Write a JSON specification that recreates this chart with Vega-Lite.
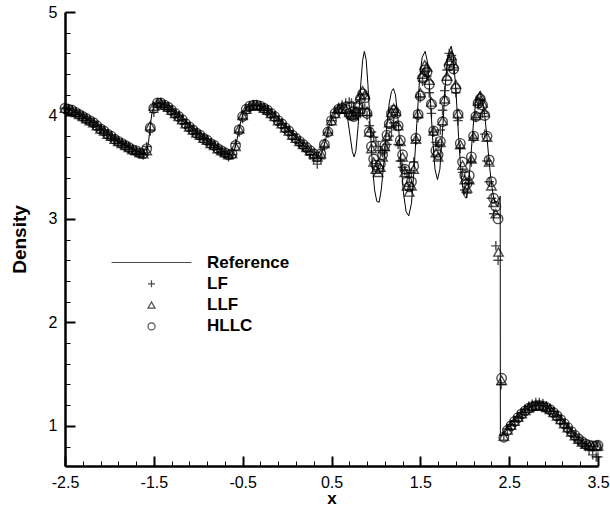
{
  "$schema": "https://vega.github.io/schema/vega-lite/v6.json",
  "width": 533,
  "height": 454,
  "autosize": {"type": "none"},
  "padding": {"left": 65, "top": 12, "right": 12, "bottom": 41},
  "background": "white",
  "config": {
    "view": {"stroke": null},
    "font": "Liberation Sans",
    "axis": {
      "domainColor": "black", "domainWidth": 2.5, "grid": false,
      "labelFont": "Liberation Sans", "labelFontSize": 16, "labelColor": "black",
      "titleFont": "Liberation Sans", "titleFontSize": 19, "titleFontWeight": "bold", "titleColor": "black"
    }
  },
  "resolve": {"axis": {"x": "independent", "y": "independent"}},
  "datasets": {
    "ref": [
      {"x":-2.5,"y":4.07},{"x":-2.4,"y":4.04},{"x":-2.3,"y":3.99},{"x":-2.2,"y":3.94},{"x":-2.1,"y":3.87},{"x":-2.0,"y":3.81},{"x":-1.9,"y":3.75},{"x":-1.8,"y":3.70},{"x":-1.7,"y":3.66},{"x":-1.64,"y":3.635},{"x":-1.6,"y":3.63},{"x":-1.58,"y":3.65},{"x":-1.56,"y":3.74},{"x":-1.54,"y":3.90},{"x":-1.52,"y":4.03},{"x":-1.5,"y":4.09},{"x":-1.47,"y":4.12},{"x":-1.43,"y":4.12},{"x":-1.38,"y":4.10},{"x":-1.3,"y":4.05},{"x":-1.2,"y":3.97},{"x":-1.1,"y":3.89},{"x":-1.0,"y":3.82},{"x":-0.9,"y":3.76},{"x":-0.8,"y":3.69},{"x":-0.7,"y":3.64},{"x":-0.65,"y":3.615},{"x":-0.62,"y":3.62},{"x":-0.6,"y":3.65},{"x":-0.57,"y":3.74},{"x":-0.54,"y":3.87},{"x":-0.51,"y":3.98},{"x":-0.48,"y":4.04},{"x":-0.44,"y":4.08},{"x":-0.38,"y":4.10},{"x":-0.3,"y":4.09},{"x":-0.2,"y":4.03},{"x":-0.1,"y":3.95},{"x":0.0,"y":3.87},{"x":0.1,"y":3.78},{"x":0.2,"y":3.70},{"x":0.3,"y":3.63},{"x":0.34,"y":3.60},{"x":0.36,"y":3.60},{"x":0.39,"y":3.64},{"x":0.42,"y":3.72},{"x":0.45,"y":3.82},{"x":0.48,"y":3.92},{"x":0.52,"y":4.00},{"x":0.56,"y":4.05},{"x":0.6,"y":4.07},{"x":0.65,"y":4.05},{"x":0.68,"y":3.98},{"x":0.71,"y":3.80},{"x":0.735,"y":3.65},{"x":0.755,"y":3.60},{"x":0.775,"y":3.66},{"x":0.8,"y":3.90},{"x":0.825,"y":4.25},{"x":0.85,"y":4.53},{"x":0.87,"y":4.62},{"x":0.89,"y":4.54},{"x":0.91,"y":4.30},{"x":0.935,"y":3.90},{"x":0.96,"y":3.52},{"x":0.985,"y":3.28},{"x":1.01,"y":3.17},{"x":1.036,"y":3.16},{"x":1.06,"y":3.28},{"x":1.09,"y":3.55},{"x":1.12,"y":3.88},{"x":1.15,"y":4.12},{"x":1.175,"y":4.23},{"x":1.197,"y":4.26},{"x":1.22,"y":4.20},{"x":1.25,"y":3.95},{"x":1.28,"y":3.58},{"x":1.31,"y":3.25},{"x":1.34,"y":3.07},{"x":1.37,"y":3.03},{"x":1.4,"y":3.15},{"x":1.43,"y":3.48},{"x":1.46,"y":3.92},{"x":1.49,"y":4.33},{"x":1.52,"y":4.56},{"x":1.554,"y":4.62},{"x":1.58,"y":4.52},{"x":1.61,"y":4.20},{"x":1.64,"y":3.76},{"x":1.665,"y":3.48},{"x":1.693,"y":3.38},{"x":1.72,"y":3.48},{"x":1.75,"y":3.85},{"x":1.78,"y":4.28},{"x":1.81,"y":4.58},{"x":1.847,"y":4.67},{"x":1.87,"y":4.58},{"x":1.9,"y":4.25},{"x":1.93,"y":3.80},{"x":1.96,"y":3.42},{"x":1.99,"y":3.23},{"x":2.016,"y":3.20},{"x":2.04,"y":3.30},{"x":2.07,"y":3.62},{"x":2.1,"y":3.95},{"x":2.13,"y":4.17},{"x":2.17,"y":4.23},{"x":2.2,"y":4.15},{"x":2.225,"y":4.00},{"x":2.25,"y":3.79},{"x":2.28,"y":3.50},{"x":2.31,"y":3.28},{"x":2.34,"y":3.15},{"x":2.37,"y":3.12},{"x":2.39,"y":3.18},{"x":2.399,"y":3.22},{"x":2.401,"y":0.90},{"x":2.44,"y":0.928},{"x":2.48,"y":0.967},{"x":2.52,"y":1.007},{"x":2.56,"y":1.046},{"x":2.6,"y":1.084},{"x":2.64,"y":1.118},{"x":2.68,"y":1.148},{"x":2.72,"y":1.172},{"x":2.76,"y":1.189},{"x":2.8,"y":1.198},{"x":2.84,"y":1.200},{"x":2.88,"y":1.193},{"x":2.92,"y":1.179},{"x":2.96,"y":1.158},{"x":3.0,"y":1.130},{"x":3.04,"y":1.097},{"x":3.08,"y":1.061},{"x":3.12,"y":1.022},{"x":3.16,"y":0.982},{"x":3.2,"y":0.942},{"x":3.24,"y":0.906},{"x":3.28,"y":0.872},{"x":3.32,"y":0.844},{"x":3.36,"y":0.823},{"x":3.4,"y":0.808},{"x":3.44,"y":0.801},{"x":3.48,"y":0.802},{"x":3.5,"y":0.805}
    ],
    "num": [
      {"s":"LLF","x":-2.5,"y":4.07},{"s":"LLF","x":-2.46,"y":4.06},{"s":"LLF","x":-2.42,"y":4.05},{"s":"LLF","x":-2.38,"y":4.03},{"s":"LLF","x":-2.34,"y":4.01},{"s":"LLF","x":-2.3,"y":3.99},{"s":"LLF","x":-2.26,"y":3.97},{"s":"LLF","x":-2.22,"y":3.95},{"s":"LLF","x":-2.18,"y":3.93},{"s":"LLF","x":-2.14,"y":3.9},{"s":"LLF","x":-2.1,"y":3.87},{"s":"LLF","x":-2.06,"y":3.85},{"s":"LLF","x":-2.02,"y":3.82},{"s":"LLF","x":-1.98,"y":3.8},{"s":"LLF","x":-1.94,"y":3.77},{"s":"LLF","x":-1.9,"y":3.75},{"s":"LLF","x":-1.86,"y":3.73},{"s":"LLF","x":-1.82,"y":3.71},{"s":"LLF","x":-1.78,"y":3.69},{"s":"LLF","x":-1.74,"y":3.67},{"s":"LLF","x":-1.7,"y":3.66},{"s":"LLF","x":-1.66,"y":3.64},{"s":"LLF","x":-1.62,"y":3.63},{"s":"LLF","x":-1.58,"y":3.66},{"s":"LLF","x":-1.54,"y":3.9},{"s":"LLF","x":-1.5,"y":4.09},{"s":"LLF","x":-1.46,"y":4.12},{"s":"LLF","x":-1.42,"y":4.12},{"s":"LLF","x":-1.38,"y":4.1},{"s":"LLF","x":-1.34,"y":4.08},{"s":"LLF","x":-1.3,"y":4.05},{"s":"LLF","x":-1.26,"y":4.02},{"s":"LLF","x":-1.22,"y":3.99},{"s":"LLF","x":-1.18,"y":3.96},{"s":"LLF","x":-1.14,"y":3.92},{"s":"LLF","x":-1.1,"y":3.89},{"s":"LLF","x":-1.06,"y":3.86},{"s":"LLF","x":-1.02,"y":3.83},{"s":"LLF","x":-0.98,"y":3.81},{"s":"LLF","x":-0.94,"y":3.78},{"s":"LLF","x":-0.9,"y":3.76},{"s":"LLF","x":-0.86,"y":3.73},{"s":"LLF","x":-0.82,"y":3.71},{"s":"LLF","x":-0.78,"y":3.68},{"s":"LLF","x":-0.74,"y":3.66},{"s":"LLF","x":-0.7,"y":3.64},{"s":"LLF","x":-0.66,"y":3.62},{"s":"LLF","x":-0.62,"y":3.63},{"s":"LLF","x":-0.58,"y":3.7},{"s":"LLF","x":-0.54,"y":3.87},{"s":"LLF","x":-0.5,"y":4.0},{"s":"LLF","x":-0.46,"y":4.06},{"s":"LLF","x":-0.42,"y":4.09},{"s":"LLF","x":-0.38,"y":4.1},{"s":"LLF","x":-0.34,"y":4.1},{"s":"LLF","x":-0.3,"y":4.09},{"s":"LLF","x":-0.26,"y":4.07},{"s":"LLF","x":-0.22,"y":4.05},{"s":"LLF","x":-0.18,"y":4.02},{"s":"LLF","x":-0.14,"y":3.99},{"s":"LLF","x":-0.1,"y":3.95},{"s":"LLF","x":-0.06,"y":3.92},{"s":"LLF","x":-0.02,"y":3.88},{"s":"LLF","x":0.02,"y":3.85},{"s":"LLF","x":0.06,"y":3.81},{"s":"LLF","x":0.1,"y":3.78},{"s":"LLF","x":0.14,"y":3.75},{"s":"LLF","x":0.18,"y":3.72},{"s":"LLF","x":0.22,"y":3.69},{"s":"LLF","x":0.26,"y":3.66},{"s":"LLF","x":0.3,"y":3.63},{"s":"LLF","x":0.34,"y":3.6},{"s":"LLF","x":0.38,"y":3.63},{"s":"LLF","x":0.42,"y":3.73},{"s":"LLF","x":0.46,"y":3.85},{"s":"LLF","x":0.5,"y":3.95},{"s":"LLF","x":0.54,"y":4.02},{"s":"LLF","x":0.58,"y":4.06},{"s":"LLF","x":0.62,"y":4.07},{"s":"LLF","x":0.66,"y":4.06},
      {"s":"LLF","x":0.7,"y":4.03},{"s":"LLF","x":0.725,"y":4.01},{"s":"LLF","x":0.75,"y":4.0},{"s":"LLF","x":0.775,"y":4.04},{"s":"LLF","x":0.8,"y":4.11},{"s":"LLF","x":0.825,"y":4.19},{"s":"LLF","x":0.85,"y":4.24},{"s":"LLF","x":0.875,"y":4.2},{"s":"LLF","x":0.9,"y":4.04},{"s":"LLF","x":0.925,"y":3.84},{"s":"LLF","x":0.95,"y":3.68},{"s":"LLF","x":0.975,"y":3.55},{"s":"LLF","x":1.0,"y":3.48},{"s":"LLF","x":1.025,"y":3.45},{"s":"LLF","x":1.05,"y":3.5},{"s":"LLF","x":1.075,"y":3.6},{"s":"LLF","x":1.1,"y":3.7},{"s":"LLF","x":1.125,"y":3.8},{"s":"LLF","x":1.15,"y":3.93},{"s":"LLF","x":1.175,"y":4.03},{"s":"LLF","x":1.2,"y":4.07},{"s":"LLF","x":1.225,"y":4.04},{"s":"LLF","x":1.25,"y":3.9},{"s":"LLF","x":1.275,"y":3.75},{"s":"LLF","x":1.3,"y":3.6},{"s":"LLF","x":1.325,"y":3.45},{"s":"LLF","x":1.35,"y":3.32},{"s":"LLF","x":1.375,"y":3.26},{"s":"LLF","x":1.4,"y":3.32},{"s":"LLF","x":1.425,"y":3.48},{"s":"LLF","x":1.45,"y":3.77},{"s":"LLF","x":1.475,"y":4.02},{"s":"LLF","x":1.5,"y":4.22},{"s":"LLF","x":1.525,"y":4.4},{"s":"LLF","x":1.55,"y":4.49},{"s":"LLF","x":1.575,"y":4.47},{"s":"LLF","x":1.6,"y":4.34},{"s":"LLF","x":1.625,"y":4.13},{"s":"LLF","x":1.65,"y":3.85},{"s":"LLF","x":1.675,"y":3.64},{"s":"LLF","x":1.7,"y":3.6},{"s":"LLF","x":1.725,"y":3.74},{"s":"LLF","x":1.75,"y":3.95},{"s":"LLF","x":1.775,"y":4.16},{"s":"LLF","x":1.8,"y":4.38},{"s":"LLF","x":1.825,"y":4.53},{"s":"LLF","x":1.85,"y":4.58},{"s":"LLF","x":1.875,"y":4.5},{"s":"LLF","x":1.9,"y":4.3},{"s":"LLF","x":1.925,"y":4.02},{"s":"LLF","x":1.95,"y":3.72},{"s":"LLF","x":1.975,"y":3.52},{"s":"LLF","x":2.0,"y":3.38},{"s":"LLF","x":2.025,"y":3.3},{"s":"LLF","x":2.05,"y":3.38},{"s":"LLF","x":2.075,"y":3.58},{"s":"LLF","x":2.1,"y":3.8},{"s":"LLF","x":2.125,"y":4.0},{"s":"LLF","x":2.15,"y":4.14},{"s":"LLF","x":2.175,"y":4.19},{"s":"LLF","x":2.2,"y":4.12},{"s":"LLF","x":2.225,"y":4.03},{"s":"LLF","x":2.25,"y":3.79},{"s":"LLF","x":2.275,"y":3.55},{"s":"LLF","x":2.3,"y":3.32},{"s":"LLF","x":2.325,"y":3.16},{"s":"LLF","x":2.35,"y":3.05},{"s":"LLF","x":2.38,"y":2.68},{"s":"LLF","x":2.415,"y":1.44},
      {"s":"LLF","x":2.44,"y":0.9},{"s":"LLF","x":2.48,"y":0.96},{"s":"LLF","x":2.52,"y":1.007},{"s":"LLF","x":2.56,"y":1.046},{"s":"LLF","x":2.6,"y":1.084},{"s":"LLF","x":2.64,"y":1.118},{"s":"LLF","x":2.68,"y":1.148},{"s":"LLF","x":2.72,"y":1.172},{"s":"LLF","x":2.76,"y":1.189},{"s":"LLF","x":2.8,"y":1.198},{"s":"LLF","x":2.84,"y":1.2},{"s":"LLF","x":2.88,"y":1.193},{"s":"LLF","x":2.92,"y":1.179},{"s":"LLF","x":2.96,"y":1.158},{"s":"LLF","x":3.0,"y":1.13},{"s":"LLF","x":3.04,"y":1.097},{"s":"LLF","x":3.08,"y":1.061},{"s":"LLF","x":3.12,"y":1.022},{"s":"LLF","x":3.16,"y":0.982},{"s":"LLF","x":3.2,"y":0.942},{"s":"LLF","x":3.24,"y":0.906},{"s":"LLF","x":3.28,"y":0.872},{"s":"LLF","x":3.32,"y":0.844},{"s":"LLF","x":3.36,"y":0.823},{"s":"LLF","x":3.4,"y":0.808},{"s":"LLF","x":3.44,"y":0.801},{"s":"LLF","x":3.48,"y":0.802},{"s":"LLF","x":3.5,"y":0.805},

      {"s":"HLLC","x":-2.5,"y":4.07},{"s":"HLLC","x":-2.46,"y":4.06},{"s":"HLLC","x":-2.42,"y":4.05},{"s":"HLLC","x":-2.38,"y":4.03},{"s":"HLLC","x":-2.34,"y":4.01},{"s":"HLLC","x":-2.3,"y":3.99},{"s":"HLLC","x":-2.26,"y":3.97},{"s":"HLLC","x":-2.22,"y":3.95},{"s":"HLLC","x":-2.18,"y":3.93},{"s":"HLLC","x":-2.14,"y":3.9},{"s":"HLLC","x":-2.1,"y":3.87},{"s":"HLLC","x":-2.06,"y":3.85},{"s":"HLLC","x":-2.02,"y":3.82},{"s":"HLLC","x":-1.98,"y":3.8},{"s":"HLLC","x":-1.94,"y":3.77},{"s":"HLLC","x":-1.9,"y":3.75},{"s":"HLLC","x":-1.86,"y":3.73},{"s":"HLLC","x":-1.82,"y":3.71},{"s":"HLLC","x":-1.78,"y":3.69},{"s":"HLLC","x":-1.74,"y":3.67},{"s":"HLLC","x":-1.7,"y":3.66},{"s":"HLLC","x":-1.66,"y":3.64},{"s":"HLLC","x":-1.62,"y":3.63},{"s":"HLLC","x":-1.58,"y":3.68},{"s":"HLLC","x":-1.54,"y":3.88},{"s":"HLLC","x":-1.5,"y":4.07},{"s":"HLLC","x":-1.46,"y":4.12},{"s":"HLLC","x":-1.42,"y":4.12},{"s":"HLLC","x":-1.38,"y":4.1},{"s":"HLLC","x":-1.34,"y":4.08},{"s":"HLLC","x":-1.3,"y":4.05},{"s":"HLLC","x":-1.26,"y":4.02},{"s":"HLLC","x":-1.22,"y":3.99},{"s":"HLLC","x":-1.18,"y":3.96},{"s":"HLLC","x":-1.14,"y":3.92},{"s":"HLLC","x":-1.1,"y":3.89},{"s":"HLLC","x":-1.06,"y":3.86},{"s":"HLLC","x":-1.02,"y":3.83},{"s":"HLLC","x":-0.98,"y":3.81},{"s":"HLLC","x":-0.94,"y":3.78},{"s":"HLLC","x":-0.9,"y":3.76},{"s":"HLLC","x":-0.86,"y":3.73},{"s":"HLLC","x":-0.82,"y":3.71},{"s":"HLLC","x":-0.78,"y":3.68},{"s":"HLLC","x":-0.74,"y":3.66},{"s":"HLLC","x":-0.7,"y":3.64},{"s":"HLLC","x":-0.66,"y":3.62},{"s":"HLLC","x":-0.62,"y":3.63},{"s":"HLLC","x":-0.58,"y":3.71},{"s":"HLLC","x":-0.54,"y":3.86},{"s":"HLLC","x":-0.5,"y":3.99},{"s":"HLLC","x":-0.46,"y":4.06},{"s":"HLLC","x":-0.42,"y":4.09},{"s":"HLLC","x":-0.38,"y":4.1},{"s":"HLLC","x":-0.34,"y":4.1},{"s":"HLLC","x":-0.3,"y":4.09},{"s":"HLLC","x":-0.26,"y":4.07},{"s":"HLLC","x":-0.22,"y":4.05},{"s":"HLLC","x":-0.18,"y":4.02},{"s":"HLLC","x":-0.14,"y":3.99},{"s":"HLLC","x":-0.1,"y":3.95},{"s":"HLLC","x":-0.06,"y":3.92},{"s":"HLLC","x":-0.02,"y":3.88},{"s":"HLLC","x":0.02,"y":3.85},{"s":"HLLC","x":0.06,"y":3.81},{"s":"HLLC","x":0.1,"y":3.78},{"s":"HLLC","x":0.14,"y":3.75},{"s":"HLLC","x":0.18,"y":3.72},{"s":"HLLC","x":0.22,"y":3.69},{"s":"HLLC","x":0.26,"y":3.66},{"s":"HLLC","x":0.3,"y":3.63},{"s":"HLLC","x":0.34,"y":3.6},{"s":"HLLC","x":0.38,"y":3.63},{"s":"HLLC","x":0.42,"y":3.72},{"s":"HLLC","x":0.46,"y":3.84},{"s":"HLLC","x":0.5,"y":3.95},{"s":"HLLC","x":0.54,"y":4.02},{"s":"HLLC","x":0.58,"y":4.06},{"s":"HLLC","x":0.62,"y":4.07},{"s":"HLLC","x":0.66,"y":4.06},
      {"s":"HLLC","x":0.7,"y":4.02},{"s":"HLLC","x":0.725,"y":4.0},{"s":"HLLC","x":0.75,"y":3.99},{"s":"HLLC","x":0.775,"y":4.02},{"s":"HLLC","x":0.8,"y":4.09},{"s":"HLLC","x":0.825,"y":4.16},{"s":"HLLC","x":0.85,"y":4.21},{"s":"HLLC","x":0.875,"y":4.17},{"s":"HLLC","x":0.9,"y":4.02},{"s":"HLLC","x":0.925,"y":3.84},{"s":"HLLC","x":0.95,"y":3.7},{"s":"HLLC","x":0.975,"y":3.58},{"s":"HLLC","x":1.0,"y":3.52},{"s":"HLLC","x":1.025,"y":3.49},{"s":"HLLC","x":1.05,"y":3.53},{"s":"HLLC","x":1.075,"y":3.62},{"s":"HLLC","x":1.1,"y":3.71},{"s":"HLLC","x":1.125,"y":3.81},{"s":"HLLC","x":1.15,"y":3.92},{"s":"HLLC","x":1.175,"y":4.02},{"s":"HLLC","x":1.2,"y":4.05},{"s":"HLLC","x":1.225,"y":4.02},{"s":"HLLC","x":1.25,"y":3.9},{"s":"HLLC","x":1.275,"y":3.76},{"s":"HLLC","x":1.3,"y":3.62},{"s":"HLLC","x":1.325,"y":3.48},{"s":"HLLC","x":1.35,"y":3.36},{"s":"HLLC","x":1.375,"y":3.31},{"s":"HLLC","x":1.4,"y":3.36},{"s":"HLLC","x":1.425,"y":3.51},{"s":"HLLC","x":1.45,"y":3.78},{"s":"HLLC","x":1.475,"y":4.01},{"s":"HLLC","x":1.5,"y":4.19},{"s":"HLLC","x":1.525,"y":4.36},{"s":"HLLC","x":1.55,"y":4.44},{"s":"HLLC","x":1.575,"y":4.42},{"s":"HLLC","x":1.6,"y":4.3},{"s":"HLLC","x":1.625,"y":4.11},{"s":"HLLC","x":1.65,"y":3.85},{"s":"HLLC","x":1.675,"y":3.66},{"s":"HLLC","x":1.7,"y":3.62},{"s":"HLLC","x":1.725,"y":3.75},{"s":"HLLC","x":1.75,"y":3.94},{"s":"HLLC","x":1.775,"y":4.14},{"s":"HLLC","x":1.8,"y":4.34},{"s":"HLLC","x":1.825,"y":4.48},{"s":"HLLC","x":1.85,"y":4.52},{"s":"HLLC","x":1.875,"y":4.45},{"s":"HLLC","x":1.9,"y":4.26},{"s":"HLLC","x":1.925,"y":4.01},{"s":"HLLC","x":1.95,"y":3.73},{"s":"HLLC","x":1.975,"y":3.55},{"s":"HLLC","x":2.0,"y":3.42},{"s":"HLLC","x":2.025,"y":3.34},{"s":"HLLC","x":2.05,"y":3.42},{"s":"HLLC","x":2.075,"y":3.6},{"s":"HLLC","x":2.1,"y":3.8},{"s":"HLLC","x":2.125,"y":3.99},{"s":"HLLC","x":2.15,"y":4.12},{"s":"HLLC","x":2.175,"y":4.16},{"s":"HLLC","x":2.2,"y":4.1},{"s":"HLLC","x":2.225,"y":4.0},{"s":"HLLC","x":2.25,"y":3.8},{"s":"HLLC","x":2.275,"y":3.57},{"s":"HLLC","x":2.3,"y":3.36},{"s":"HLLC","x":2.325,"y":3.2},{"s":"HLLC","x":2.35,"y":3.12},{"s":"HLLC","x":2.375,"y":3.0},{"s":"HLLC","x":2.415,"y":1.46},
      {"s":"HLLC","x":2.44,"y":0.89},{"s":"HLLC","x":2.48,"y":0.955},{"s":"HLLC","x":2.52,"y":1.0},{"s":"HLLC","x":2.56,"y":1.042},{"s":"HLLC","x":2.6,"y":1.08},{"s":"HLLC","x":2.64,"y":1.115},{"s":"HLLC","x":2.68,"y":1.145},{"s":"HLLC","x":2.72,"y":1.17},{"s":"HLLC","x":2.76,"y":1.186},{"s":"HLLC","x":2.8,"y":1.195},{"s":"HLLC","x":2.84,"y":1.197},{"s":"HLLC","x":2.88,"y":1.19},{"s":"HLLC","x":2.92,"y":1.177},{"s":"HLLC","x":2.96,"y":1.156},{"s":"HLLC","x":3.0,"y":1.128},{"s":"HLLC","x":3.04,"y":1.096},{"s":"HLLC","x":3.08,"y":1.06},{"s":"HLLC","x":3.12,"y":1.022},{"s":"HLLC","x":3.16,"y":0.983},{"s":"HLLC","x":3.2,"y":0.944},{"s":"HLLC","x":3.24,"y":0.908},{"s":"HLLC","x":3.28,"y":0.875},{"s":"HLLC","x":3.32,"y":0.847},{"s":"HLLC","x":3.36,"y":0.826},{"s":"HLLC","x":3.4,"y":0.812},{"s":"HLLC","x":3.44,"y":0.806},{"s":"HLLC","x":3.48,"y":0.808},{"s":"HLLC","x":3.5,"y":0.812},

      {"s":"LF","x":-2.5,"y":4.07},{"s":"LF","x":-2.46,"y":4.06},{"s":"LF","x":-2.42,"y":4.05},{"s":"LF","x":-2.38,"y":4.03},{"s":"LF","x":-2.34,"y":4.01},{"s":"LF","x":-2.3,"y":3.99},{"s":"LF","x":-2.26,"y":3.97},{"s":"LF","x":-2.22,"y":3.95},{"s":"LF","x":-2.18,"y":3.93},{"s":"LF","x":-2.14,"y":3.9},{"s":"LF","x":-2.1,"y":3.87},{"s":"LF","x":-2.06,"y":3.85},{"s":"LF","x":-2.02,"y":3.82},{"s":"LF","x":-1.98,"y":3.8},{"s":"LF","x":-1.94,"y":3.77},{"s":"LF","x":-1.9,"y":3.75},{"s":"LF","x":-1.86,"y":3.73},{"s":"LF","x":-1.82,"y":3.71},{"s":"LF","x":-1.78,"y":3.69},{"s":"LF","x":-1.74,"y":3.67},{"s":"LF","x":-1.7,"y":3.65},{"s":"LF","x":-1.66,"y":3.63},{"s":"LF","x":-1.62,"y":3.62},{"s":"LF","x":-1.58,"y":3.7},{"s":"LF","x":-1.54,"y":3.85},{"s":"LF","x":-1.5,"y":4.03},{"s":"LF","x":-1.46,"y":4.1},{"s":"LF","x":-1.42,"y":4.12},{"s":"LF","x":-1.38,"y":4.1},{"s":"LF","x":-1.34,"y":4.08},{"s":"LF","x":-1.3,"y":4.05},{"s":"LF","x":-1.26,"y":4.02},{"s":"LF","x":-1.22,"y":3.99},{"s":"LF","x":-1.18,"y":3.96},{"s":"LF","x":-1.14,"y":3.92},{"s":"LF","x":-1.1,"y":3.89},{"s":"LF","x":-1.06,"y":3.86},{"s":"LF","x":-1.02,"y":3.83},{"s":"LF","x":-0.98,"y":3.81},{"s":"LF","x":-0.94,"y":3.78},{"s":"LF","x":-0.9,"y":3.76},{"s":"LF","x":-0.86,"y":3.73},{"s":"LF","x":-0.82,"y":3.71},{"s":"LF","x":-0.78,"y":3.68},{"s":"LF","x":-0.74,"y":3.65},{"s":"LF","x":-0.7,"y":3.63},{"s":"LF","x":-0.66,"y":3.6},{"s":"LF","x":-0.62,"y":3.62},{"s":"LF","x":-0.58,"y":3.73},{"s":"LF","x":-0.54,"y":3.84},{"s":"LF","x":-0.5,"y":3.97},{"s":"LF","x":-0.46,"y":4.04},{"s":"LF","x":-0.42,"y":4.08},{"s":"LF","x":-0.38,"y":4.1},{"s":"LF","x":-0.34,"y":4.1},{"s":"LF","x":-0.3,"y":4.09},{"s":"LF","x":-0.26,"y":4.07},{"s":"LF","x":-0.22,"y":4.05},{"s":"LF","x":-0.18,"y":4.02},{"s":"LF","x":-0.14,"y":3.99},{"s":"LF","x":-0.1,"y":3.95},{"s":"LF","x":-0.06,"y":3.92},{"s":"LF","x":-0.02,"y":3.88},{"s":"LF","x":0.02,"y":3.85},{"s":"LF","x":0.06,"y":3.81},{"s":"LF","x":0.1,"y":3.77},{"s":"LF","x":0.14,"y":3.73},{"s":"LF","x":0.18,"y":3.7},{"s":"LF","x":0.22,"y":3.66},{"s":"LF","x":0.26,"y":3.62},{"s":"LF","x":0.3,"y":3.58},{"s":"LF","x":0.34,"y":3.53},{"s":"LF","x":0.38,"y":3.58},{"s":"LF","x":0.42,"y":3.7},{"s":"LF","x":0.46,"y":3.83},{"s":"LF","x":0.5,"y":3.95},{"s":"LF","x":0.54,"y":4.03},{"s":"LF","x":0.58,"y":4.08},{"s":"LF","x":0.62,"y":4.1},{"s":"LF","x":0.66,"y":4.12},
      {"s":"LF","x":0.7,"y":4.13},{"s":"LF","x":0.725,"y":4.12},{"s":"LF","x":0.75,"y":4.08},{"s":"LF","x":0.775,"y":4.03},{"s":"LF","x":0.8,"y":4.0},{"s":"LF","x":0.825,"y":4.02},{"s":"LF","x":0.85,"y":4.06},{"s":"LF","x":0.875,"y":4.07},{"s":"LF","x":0.9,"y":4.0},{"s":"LF","x":0.925,"y":3.9},{"s":"LF","x":0.95,"y":3.84},{"s":"LF","x":0.975,"y":3.79},{"s":"LF","x":1.0,"y":3.75},{"s":"LF","x":1.025,"y":3.7},{"s":"LF","x":1.05,"y":3.66},{"s":"LF","x":1.075,"y":3.64},{"s":"LF","x":1.1,"y":3.66},{"s":"LF","x":1.125,"y":3.72},{"s":"LF","x":1.15,"y":3.8},{"s":"LF","x":1.175,"y":3.88},{"s":"LF","x":1.2,"y":3.93},{"s":"LF","x":1.225,"y":3.9},{"s":"LF","x":1.25,"y":3.72},{"s":"LF","x":1.275,"y":3.56},{"s":"LF","x":1.3,"y":3.5},{"s":"LF","x":1.325,"y":3.47},{"s":"LF","x":1.35,"y":3.44},{"s":"LF","x":1.375,"y":3.4},{"s":"LF","x":1.4,"y":3.45},{"s":"LF","x":1.425,"y":3.55},{"s":"LF","x":1.45,"y":3.76},{"s":"LF","x":1.475,"y":3.98},{"s":"LF","x":1.5,"y":4.17},{"s":"LF","x":1.525,"y":4.33},{"s":"LF","x":1.55,"y":4.42},{"s":"LF","x":1.575,"y":4.38},{"s":"LF","x":1.6,"y":4.22},{"s":"LF","x":1.625,"y":4.02},{"s":"LF","x":1.65,"y":3.84},{"s":"LF","x":1.675,"y":3.74},{"s":"LF","x":1.7,"y":3.72},{"s":"LF","x":1.725,"y":3.86},{"s":"LF","x":1.75,"y":4.05},{"s":"LF","x":1.775,"y":4.24},{"s":"LF","x":1.8,"y":4.44},{"s":"LF","x":1.825,"y":4.6},{"s":"LF","x":1.85,"y":4.58},{"s":"LF","x":1.875,"y":4.44},{"s":"LF","x":1.9,"y":4.22},{"s":"LF","x":1.925,"y":3.95},{"s":"LF","x":1.95,"y":3.68},{"s":"LF","x":1.975,"y":3.45},{"s":"LF","x":2.0,"y":3.28},{"s":"LF","x":2.025,"y":3.25},{"s":"LF","x":2.05,"y":3.35},{"s":"LF","x":2.075,"y":3.55},{"s":"LF","x":2.1,"y":3.78},{"s":"LF","x":2.125,"y":3.98},{"s":"LF","x":2.15,"y":4.1},{"s":"LF","x":2.175,"y":4.15},{"s":"LF","x":2.2,"y":4.02},{"s":"LF","x":2.225,"y":3.82},{"s":"LF","x":2.25,"y":3.56},{"s":"LF","x":2.275,"y":3.36},{"s":"LF","x":2.3,"y":3.2},{"s":"LF","x":2.325,"y":3.05},{"s":"LF","x":2.35,"y":2.74},{"s":"LF","x":2.375,"y":2.6},{"s":"LF","x":2.41,"y":1.4},
      {"s":"LF","x":2.44,"y":0.91},{"s":"LF","x":2.48,"y":0.97},{"s":"LF","x":2.52,"y":1.01},{"s":"LF","x":2.56,"y":1.05},{"s":"LF","x":2.6,"y":1.09},{"s":"LF","x":2.64,"y":1.125},{"s":"LF","x":2.68,"y":1.16},{"s":"LF","x":2.72,"y":1.19},{"s":"LF","x":2.76,"y":1.21},{"s":"LF","x":2.8,"y":1.225},{"s":"LF","x":2.84,"y":1.225},{"s":"LF","x":2.88,"y":1.215},{"s":"LF","x":2.92,"y":1.195},{"s":"LF","x":2.96,"y":1.17},{"s":"LF","x":3.0,"y":1.14},{"s":"LF","x":3.04,"y":1.1},{"s":"LF","x":3.08,"y":1.06},{"s":"LF","x":3.12,"y":1.02},{"s":"LF","x":3.16,"y":0.975},{"s":"LF","x":3.2,"y":0.93},{"s":"LF","x":3.24,"y":0.89},{"s":"LF","x":3.28,"y":0.855},{"s":"LF","x":3.32,"y":0.825},{"s":"LF","x":3.36,"y":0.8},{"s":"LF","x":3.4,"y":0.77},{"s":"LF","x":3.44,"y":0.72},{"s":"LF","x":3.48,"y":0.7},{"s":"LF","x":3.5,"y":0.7}
    ]
  },
  "layer": [
    {
      "data": {"name": "ref"},
      "mark": {"type": "line", "color": "black", "strokeWidth": 1},
      "encoding": {
        "x": {
          "field": "x", "type": "quantitative",
          "scale": {"domain": [-2.5, 3.5], "nice": false, "zero": false},
          "axis": {
            "orient": "bottom", "title": "x", "titlePadding": 0, "titleFontSize": 17,
            "ticks": true, "tickSize": -10, "tickWidth": 2, "tickColor": "#000000",
            "values": [-2.5, -1.5, -0.5, 0.5, 1.5, 2.5, 3.5],
            "labelExpr": "toString(datum.value)",
            "labelPadding": 18, "labelFlush": false, "labelOverlap": false
          }
        },
        "y": {
          "field": "y", "type": "quantitative",
          "scale": {"domain": [0.612, 5], "nice": false, "zero": false},
          "axis": {
            "orient": "left", "title": "Density", "titlePadding": 19,
            "ticks": true, "tickSize": -10, "tickWidth": 2, "tickColor": "#000000",
            "values": [1, 2, 3, 4, 5],
            "labelExpr": "toString(datum.value)",
            "labelPadding": 18, "labelFlush": false, "labelOverlap": false
          }
        }
      }
    },
    {
      "data": {"name": "num"},
      "transform": [{"filter": "datum.s === 'LF'"}],
      "mark": {"type": "point", "filled": false, "color": "black", "strokeWidth": 1.4, "size": 90},
      "encoding": {
        "x": {"field": "x", "type": "quantitative", "axis": null},
        "y": {"field": "y", "type": "quantitative", "axis": null},
        "shape": {
          "field": "s", "type": "nominal",
          "scale": {"domain": ["Reference", "LF", "LLF", "HLLC"], "range": ["M-11.3,0H11.3", "M-1,0H1M0,-1V1", "triangle-up", "circle"]},
          "legend": {
            "orient": "none", "legendX": 78, "legendY": 242, "title": null,
            "labelFont": "Liberation Sans", "labelFontSize": 17, "labelFontWeight": "bold", "labelColor": "black",
            "symbolSize": 50, "symbolStrokeColor": "black", "symbolFillColor": "transparent", "symbolStrokeWidth": 1.2,
            "labelOffset": 47, "rowPadding": 3.3
          }
        }
      }
    },
    {
      "data": {"name": "num"},
      "transform": [{"filter": "datum.s !== 'LF'"}],
      "mark": {"type": "point", "filled": false, "color": "black", "strokeWidth": 1.4, "size": 90},
      "encoding": {
        "x": {
          "field": "x", "type": "quantitative",
          "axis": {
            "orient": "bottom", "title": null, "labels": false, "domain": false, "offset": -5,
            "values": [-2.3,-2.1,-1.9,-1.7,-1.3,-1.1,-0.9,-0.7,-0.3,-0.1,0.1,0.3,0.7,0.9,1.1,1.3,1.7,1.9,2.1,2.3,2.7,2.9,3.1,3.3],
            "tickSize": 5, "tickWidth": 1, "tickColor": "#000000"
          }
        },
        "y": {
          "field": "y", "type": "quantitative",
          "axis": {
            "orient": "left", "title": null, "labels": false, "domain": false, "offset": -5,
            "values": [0.8,1.2,1.4,1.6,1.8,2.2,2.4,2.6,2.8,3.2,3.4,3.6,3.8,4.2,4.4,4.6,4.8],
            "tickSize": 5, "tickWidth": 1, "tickColor": "#000000"
          }
        },
        "shape": {
          "field": "s", "type": "nominal",
          "scale": {"domain": ["Reference", "LF", "LLF", "HLLC"], "range": ["M-11.3,0H11.3", "M-1,0H1M0,-1V1", "triangle-up", "circle"]},
          "legend": {
            "orient": "none", "legendX": 78, "legendY": 242, "title": null,
            "labelFont": "Liberation Sans", "labelFontSize": 17, "labelFontWeight": "bold", "labelColor": "black",
            "symbolSize": 50, "symbolStrokeColor": "black", "symbolFillColor": "transparent", "symbolStrokeWidth": 1.2,
            "labelOffset": 47, "rowPadding": 3.3
          }
        }
      }
    }
  ]
}
